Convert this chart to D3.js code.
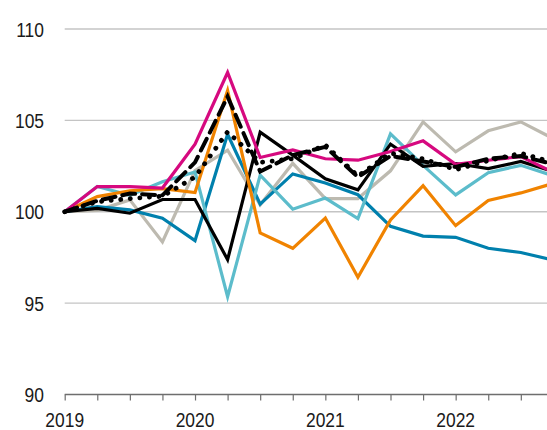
<!DOCTYPE html>
<html>
<head>
<meta charset="utf-8">
<script src="https://cdn.jsdelivr.net/npm/d3@7"></script>
<style>
body { margin: 0; background: #fff; }
text { font-family: "Liberation Sans", Arial, sans-serif; font-size: 21px; fill: #1a1a1a; }
</style>
</head>
<body>
<script>
// quarters 2019Q1 .. 2022Q4
var quarters = ["2019Q1","2019Q2","2019Q3","2019Q4","2020Q1","2020Q2","2020Q3","2020Q4",
                "2021Q1","2021Q2","2021Q3","2021Q4","2022Q1","2022Q2","2022Q3","2022Q4"];
var yearLabels = ["2019", "2020", "2021", "2022"];
var yTicks = [90, 95, 100, 105, 110];

var grey      = [100, 100.08, 100.65, 98.35, 102.25, 103.37, 100.38, 102.65, 100.72, 100.72, 102.24, 104.92, 103.28, 104.43, 104.92, 104.0];
var darkBlue  = [100, 100.28, 100.1, 99.65, 98.42, 104.24, 100.42, 102.07, 101.57, 100.93, 99.2, 98.67, 98.6, 98.0, 97.77, 97.35];
var lightBlue = [100, 101.38, 100.9, 101.64, 102.18, 95.35, 102.0, 100.14, 100.75, 99.63, 104.26, 102.54, 100.92, 102.14, 102.54, 101.97];
var black     = [100, 100.18, 99.92, 100.67, 100.67, 97.38, 104.35, 103.1, 101.8, 101.2, 103.7, 102.49, 102.64, 102.36, 102.75, 102.2];
var orange    = [100, 100.83, 101.15, 101.27, 101.05, 106.63, 98.84, 98.0, 99.66, 96.42, 99.55, 101.43, 99.24, 100.62, 101.03, 101.55];
var magenta   = [100, 101.38, 101.38, 101.3, 103.7, 107.62, 102.97, 103.38, 102.9, 102.82, 103.3, 103.88, 102.6, 102.82, 103.02, 102.15];
var dashed    = [100, 100.6, 101.0, 100.9, 102.7, 106.3, 102.2, 103.1, 103.55, 101.9, 103.05, 102.75, 102.45, 102.9, 103.05, 102.6];
var dotted    = [100, 100.55, 100.72, 100.85, 101.9, 104.37, 102.7, 102.9, 103.65, 101.95, 103.2, 102.9, 102.3, 102.8, 103.2, 102.7];

var svg = d3.select("body").append("svg").attr("width", 547).attr("height", 430);

var x = d3.scaleLinear().domain([0, 15]).range([64.7, 553.4]);
var y = d3.scaleLinear().domain([90, 110]).range([394.5, 29]);

// grid lines
svg.selectAll("line.grid")
.data(yTicks.filter(function(d){ return d > 90; }))
.enter().append("line")
.attr("class", "grid")
.attr("x1", x(0)).attr("x2", 547)
.attr("y1", function(d){ return y(d); })
.attr("y2", function(d){ return y(d); })
.attr("stroke", "#c4c4c4")
.attr("stroke-width", 1.4);

// labels are squeezed horizontally to look like a narrow face
svg.selectAll("text.ylab")
.data(yTicks)
.enter().append("text")
.attr("class", "ylab")
.attr("transform", function(d){ return "translate(44," + y(d) + ") scale(0.83,1)"; })
.attr("dy", "0.36em")
.attr("text-anchor", "end")
.text(function(d){ return d; });

// x axis
var xAxis = d3.axisBottom(x)
.tickValues(d3.range(quarters.length))
.tickSize(6)
.tickFormat("");
var gx = svg.append("g").attr("transform", "translate(0," + y(90) + ")").call(xAxis);
gx.select(".domain").attr("stroke", "#6e6e6e").attr("stroke-width", 1.5).attr("d", "M" + x(0) + ",0H547");
gx.selectAll(".tick line").attr("stroke", "#6e6e6e").attr("stroke-width", 1.2);

svg.selectAll("text.xlab")
.data(yearLabels)
.enter().append("text")
.attr("class", "xlab")
.attr("transform", function(d, i){ return "translate(" + x(i * 4) + ",427) scale(0.83,1)"; })
.attr("text-anchor", "middle")
.text(function(d){ return d; });

var line = d3.line()
.x(function(d, i){ return x(i); })
.y(function(d){ return y(d); });

var series = [
  { values: grey, color: "#bdbab0", width: 3.2, dash: null },
  { values: darkBlue, color: "#0080ad", width: 3.2, dash: null },
  { values: lightBlue, color: "#5cbccb", width: 3.2, dash: null },
  { values: black, color: "#000000", width: 3.2, dash: null },
  { values: orange, color: "#f08300", width: 3.2, dash: null },
  { values: magenta, color: "#d6097f", width: 3.2, dash: null },
  { values: dashed, color: "#000000", width: 4, dash: "13 7" },
  { values: dotted, color: "#000000", width: 4.8, dash: "0.1 9.5" }
];

svg.selectAll("path.series")
.data(series)
.enter().append("path")
.attr("class", "series")
.attr("fill", "none")
.attr("stroke", function(d){ return d.color; })
.attr("stroke-width", function(d){ return d.width; })
.attr("stroke-dasharray", function(d){ return d.dash; })
.attr("stroke-linecap", function(d){ return d.dash ? "round" : "butt"; })
.attr("stroke-linejoin", "miter")
.attr("d", function(d){ return line(d.values); });
</script>
</body>
</html>
